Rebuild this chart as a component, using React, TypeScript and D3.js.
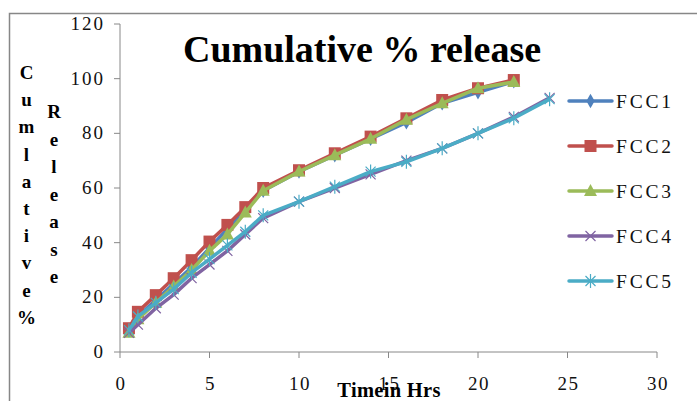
import React from 'react';
import * as d3 from 'd3';

const hours = [0.5, 1, 2, 3, 4, 5, 6, 7, 8, 10, 12, 14, 16, 18, 20, 22, 24];
const fcc1 = [8, 13, 19, 25, 31, 38, 45, 52, 59, 66, 72, 78, 84, 91, 95, 99];
const fcc2 = [8.7, 14.7, 20.8, 27, 33.6, 40.4, 46.5, 53, 60, 66.5, 72.7, 78.8, 85.5, 92.2, 96.5, 99.5];
const fcc3 = [7, 12, 18, 24, 30, 37, 43, 51, 59, 66, 72, 78, 85, 91, 96.5, 98.8];
const fcc4 = [7, 10, 16, 21, 27, 32, 37, 43, 49, 55, 60, 65, 70, 74.5, 80, 86, 93];
const fcc5 = [8, 13, 18, 23, 29, 34, 39, 44, 50, 55, 60.5, 66, 69.6, 74.5, 80, 85.5, 92.5];

const seriesNames = ['FCC1', 'FCC2', 'FCC3', 'FCC4', 'FCC5'];
const seriesValues = [fcc1, fcc2, fcc3, fcc4, fcc5];
const seriesColors = ['#4F81BD', '#C0504D', '#9BBB59', '#8064A2', '#4BACC6'];
const seriesMarkers = ['diamond', 'square', 'triangle', 'cross', 'star'];

const xTicks = [0, 5, 10, 15, 20, 25, 30];
const yTicks = [0, 20, 40, 60, 80, 100, 120];
const yTitle1 = ['C', 'u', 'm', 'l', 'a', 't', 'i', 'v', 'e', '%'];
const yTitle2 = ['R', 'e', 'l', 'e', 'a', 's', 'e'];

const serif = 'Liberation Serif';
const W = 697;
const H = 401;

const x = d3.scaleLinear().domain([0, 30]).range([120, 657]);
const y = d3.scaleLinear().domain([0, 120]).range([352, 24]);
const line = d3.line<[number, number]>().x(d => x(d[0])).y(d => y(d[1]));

const Marker: React.FC<{ kind: string; cx: number; cy: number; color: string }> = ({ kind, cx, cy, color }) => {
    const t = `translate(${cx},${cy})`;
    if (kind === 'diamond') {
        return <path transform={t} d={d3.symbol(d3.symbolDiamond, 60)() || ''} fill={color} />;
    }
    if (kind === 'square') {
        return <rect transform={t} x={-6} y={-6} width={12} height={12} fill={color} />;
    }
    if (kind === 'triangle') {
        return <path transform={t} d="M0,-7 L6.5,5 L-6.5,5 Z" fill={color} />;
    }
    if (kind === 'cross') {
        return <path transform={t} d="M-5,-5 L5,5 M-5,5 L5,-5" stroke={color} strokeWidth={1.2} fill="none" />;
    }
    return <path transform={t} d="M-5,-5 L5,5 M-5,5 L5,-5 M0,-7 L0,7" stroke={color} strokeWidth={1.2} fill="none" />;
};

const App: React.FC = () => {
    return (
        <svg width={W} height={H} style={{ position: 'absolute', left: 0, top: 0, display: 'block' }}>
            <rect width={W} height={H} fill="#fff" />
            {/* outer chart border, left and top visible */}
            <path d="M9.5,401 V13.5 H697" fill="none" stroke="#878787" strokeWidth={1.5} />

            {/* y axis */}
            <line x1={x(0)} x2={x(0)} y1={y(0)} y2={y(120)} stroke="#888" />
            {yTicks.map(t => (
                <g key={'y' + t}>
                    <line x1={x(0) - 6} x2={x(0)} y1={y(t)} y2={y(t)} stroke="#888" />
                    <text x={x(0) - 15} y={y(t) + 6} textAnchor="end" fontFamily={serif}
                        fontSize={19} letterSpacing={2} fill="#111">{t}</text>
                </g>
            ))}

            {/* x axis */}
            <line x1={x(0)} x2={x(30)} y1={y(0)} y2={y(0)} stroke="#888" />
            {xTicks.map(t => (
                <g key={'x' + t}>
                    <line x1={x(t)} x2={x(t)} y1={y(0)} y2={y(0) + 6} stroke="#888" />
                    <text x={x(t) + 1} y={390} textAnchor="middle" fontFamily={serif}
                        fontSize={19} letterSpacing={1.5} fill="#111">{t}</text>
                </g>
            ))}

            {/* series */}
            {seriesValues.map((vals, i) => {
                const pts = vals.map((v, j) => [hours[j], v] as [number, number]);
                return (
                    <g key={seriesNames[i]}>
                        <path d={line(pts) || ''} fill="none" stroke={seriesColors[i]}
                            strokeWidth={3.5} strokeLinejoin="round" />
                        {pts.map((p, j) => (
                            <Marker key={j} kind={seriesMarkers[i]} cx={x(p[0])} cy={y(p[1])} color={seriesColors[i]} />
                        ))}
                    </g>
                );
            })}

            {/* legend */}
            {seriesNames.map((name, i) => {
                const ly = 101 + i * 45;
                return (
                    <g key={'lg' + name}>
                        <line x1={569} x2={612} y1={ly} y2={ly} stroke={seriesColors[i]}
                            strokeWidth={3.5} strokeLinecap="round" />
                        <Marker kind={seriesMarkers[i]} cx={590.5} cy={ly} color={seriesColors[i]} />
                        <text x={616} y={ly + 7} fontFamily={serif} fontSize={19.5}
                            letterSpacing={2.8} fill="#111">{name}</text>
                    </g>
                );
            })}

            {/* title */}
            <text x={362} y={62} textAnchor="middle" fontFamily={serif} fontSize={38}
                fontWeight="bold">Cumulative % release</text>

            {/* y axis title, stacked letters */}
            {yTitle1.map((c, i) => (
                <text key={'a' + i} x={26.5} y={79 + i * 27.2} textAnchor="middle" fontFamily={serif}
                    fontSize={19} fontWeight="bold">{c}</text>
            ))}
            {yTitle2.map((c, i) => (
                <text key={'b' + i} x={54} y={118 + i * 27.5} textAnchor="middle" fontFamily={serif}
                    fontSize={19} fontWeight="bold">{c}</text>
            ))}

            {/* x axis title */}
            <text x={389} y={397} textAnchor="middle" fontFamily={serif} fontSize={20.5}
                fontWeight="bold" letterSpacing={0.3}>Timein Hrs</text>
        </svg>
    );
};

export default App;
